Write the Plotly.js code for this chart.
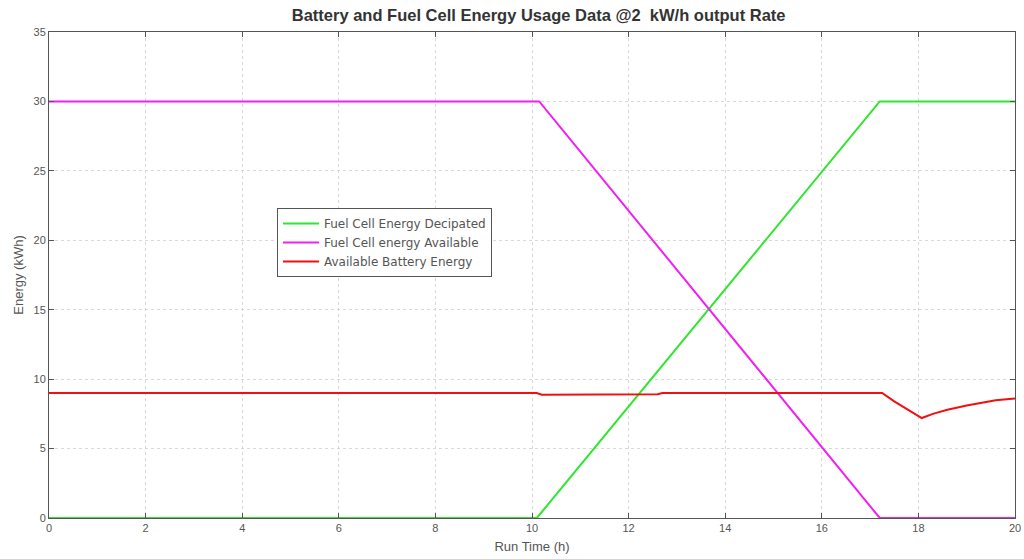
<!DOCTYPE html>
<html>
<head>
<meta charset="utf-8">
<script src="https://cdn.plot.ly/plotly-3.0.1.min.js"></script>
<style>html,body{margin:0;padding:0;background:#fff;}#chart{width:1024px;height:559px;}</style>
</head>
<body>
<div id="chart"></div>
<script>
// Data
const decipatedX = [0, 10.1, 17.2, 20];
const decipatedY = [0, 0, 30, 30];

const availableX = [0, 10.15, 17.2, 20];
const availableY = [30, 30, 0, 0];

const batteryX = [0, 10.1, 10.2, 11.0, 12.0, 12.6, 12.7, 17.25, 17.5, 18.07, 18.3, 18.6, 19.0, 19.3, 19.6, 20.0];
const batteryY = [9, 9, 8.88, 8.9, 8.9, 8.92, 9, 9, 8.4, 7.2, 7.5, 7.8, 8.1, 8.3, 8.48, 8.6];

const seriesNames = ['Fuel Cell Energy Decipated', 'Fuel Cell energy Available', 'Available Battery Energy'];
const seriesColors = ['#2ee62e', '#f020f0', '#f01010'];

const traces = [
  {x: decipatedX, y: decipatedY, name: seriesNames[0], mode: 'lines', line: {color: seriesColors[0], width: 2}},
  {x: availableX, y: availableY, name: seriesNames[1], mode: 'lines', line: {color: seriesColors[1], width: 2}},
  {x: batteryX, y: batteryY, name: seriesNames[2], mode: 'lines', line: {color: seriesColors[2], width: 2}}
];

const FONT = 'Liberation Sans, Arial, sans-serif';
const axisCommon = {
  showline: true, linecolor: '#555', linewidth: 1, mirror: 'ticks',
  ticks: 'inside', ticklen: 5, tickcolor: '#555',
  showgrid: true, gridcolor: '#d8d8d8', griddash: 'dot', gridwidth: 1,
  zeroline: false,
  tickfont: {family: FONT, size: 11, color: '#555'}
};

const layout = {
  width: 1024, height: 559,
  margin: {l: 49, r: 9, t: 32, b: 41},
  paper_bgcolor: '#fff', plot_bgcolor: '#fff',
  title: {text: 'Battery and Fuel Cell Energy Usage Data @2&nbsp; kW/h output Rate',
          font: {family: FONT, size: 16.5, color: '#333', weight: 'bold'},
          x: 0.526, xanchor: 'center', y: 0.972, yanchor: 'middle'},
  xaxis: Object.assign({}, axisCommon, {range: [0, 20], dtick: 2, tick0: 0,
    title: {text: 'Run Time (h)', standoff: 8, font: {family: FONT, size: 13, color: '#555'}}}),
  yaxis: Object.assign({}, axisCommon, {range: [0, 35], dtick: 5, tick0: 0,
    title: {text: 'Energy (kWh)', standoff: 6, font: {family: FONT, size: 13, color: '#555'}}}),
  showlegend: true,
  legend: {x: 0.236, y: 0.638, xanchor: 'left', yanchor: 'top',
    bgcolor: '#fff', bordercolor: '#555', borderwidth: 1,
    font: {family: 'DejaVu Sans, sans-serif', size: 12, color: '#555'},
    tracegroupgap: 0, itemwidth: 36}
};

Plotly.newPlot('chart', traces, layout, {staticPlot: true});
</script>
</body>
</html>
